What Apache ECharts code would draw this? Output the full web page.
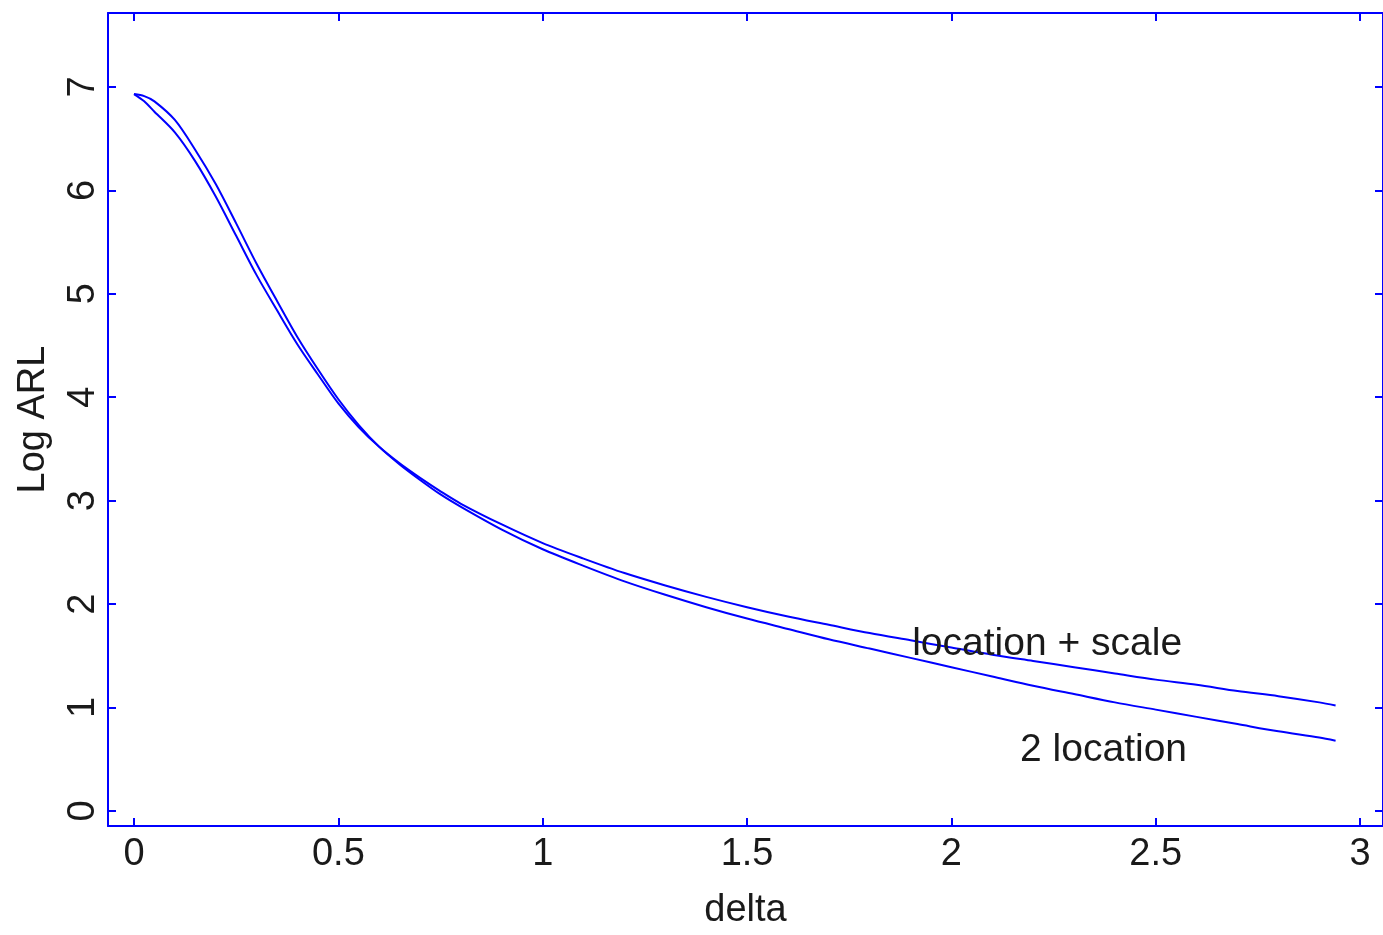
<!DOCTYPE html>
<html>
<head>
<meta charset="utf-8">
<script src="https://cdn.jsdelivr.net/npm/echarts@6/dist/echarts.min.js"></script>
<style>
html,body{margin:0;padding:0;background:#fff;}
#chart{width:1383px;height:935px;}
</style>
</head>
<body>
<div id="chart"></div>
<script>
// ---- data ----
const deltaTwoLoc = [0, 0.025, 0.05, 0.1, 0.15, 0.2, 0.25, 0.3, 0.35, 0.4, 0.45, 0.5, 0.55, 0.6, 0.65, 0.7, 0.75, 0.8, 0.9, 1.0, 1.1, 1.2, 1.3, 1.4, 1.5, 1.6, 1.7, 1.8, 1.9, 2.0, 2.1, 2.2, 2.3, 2.4, 2.5, 2.6, 2.7, 2.8, 2.9, 2.94];
const arlTwoLoc   = [6.93, 6.91, 6.86, 6.68, 6.39, 6.06, 5.68, 5.29, 4.93, 4.58, 4.27, 3.98, 3.73, 3.52, 3.35, 3.20, 3.06, 2.94, 2.72, 2.53, 2.37, 2.22, 2.09, 1.97, 1.86, 1.76, 1.66, 1.57, 1.48, 1.39, 1.30, 1.21, 1.13, 1.05, 0.98, 0.91, 0.84, 0.77, 0.71, 0.68];
const deltaLocScale = [0, 0.025, 0.05, 0.1, 0.15, 0.2, 0.25, 0.3, 0.35, 0.4, 0.45, 0.5, 0.55, 0.6, 0.65, 0.7, 0.75, 0.8, 0.9, 1.0, 1.1, 1.2, 1.3, 1.4, 1.5, 1.6, 1.7, 1.8, 1.9, 2.0, 2.1, 2.2, 2.3, 2.4, 2.5, 2.6, 2.7, 2.8, 2.9, 2.94];
const arlLocScale   = [6.93, 6.86, 6.76, 6.56, 6.28, 5.94, 5.56, 5.18, 4.84, 4.51, 4.22, 3.94, 3.71, 3.52, 3.36, 3.22, 3.09, 2.97, 2.77, 2.59, 2.44, 2.30, 2.18, 2.07, 1.97, 1.88, 1.80, 1.72, 1.65, 1.58, 1.51, 1.45, 1.39, 1.33, 1.27, 1.22, 1.16, 1.11, 1.05, 1.02];
const xTicks = [0, 0.5, 1, 1.5, 2, 2.5, 3];
const yTicks = [0, 1, 2, 3, 4, 5, 6, 7];
const annotations = [
  {text: 'location + scale', x: 1.904, y: 1.50},
  {text: '2 location', x: 2.168, y: 0.48}
];
const xName = 'delta';
const yName = 'Log ARL';

// ---- chart ----
const blue = '#0000ff';
const textColor = '#1a1a1a';
const font = 'Liberation Sans, Arial, sans-serif';
const fs = 38;
const xMin = -0.0636, xMax = 3.056, yMin = -0.145, yMax = 7.714;

const chart = echarts.init(document.getElementById('chart'), null, {renderer: 'canvas'});

function xAxisDef(pos, showLabel) {
  return {
    type: 'value', position: pos, min: xMin, max: xMax,
    name: showLabel ? xName : '', nameLocation: 'middle', nameGap: 66,
    nameTextStyle: {color: textColor, fontSize: fs, fontFamily: font},
    axisLine: {show: true, onZero: false, lineStyle: {color: blue, width: 2}},
    axisTick: {show: true, inside: true, length: 8, customValues: xTicks, lineStyle: {color: blue, width: 2}},
    axisLabel: {show: showLabel, customValues: xTicks, margin: 10, color: textColor, fontSize: fs, fontFamily: font,
      formatter: v => String(v)},
    splitLine: {show: false}
  };
}
function yAxisDef(pos, showLabel) {
  return {
    type: 'value', position: pos, min: yMin, max: yMax,
    name: showLabel ? yName : '', nameLocation: 'middle', nameGap: 55, nameRotate: 90,
    nameTextStyle: {color: textColor, fontSize: fs, fontFamily: font},
    axisLine: {show: true, onZero: false, lineStyle: {color: blue, width: 2}},
    axisTick: {show: true, inside: true, length: 8, customValues: yTicks, lineStyle: {color: blue, width: 2}},
    axisLabel: {show: showLabel, customValues: yTicks, rotate: 90, margin: 5, color: textColor, fontSize: fs, fontFamily: font,
      formatter: v => String(v)},
    splitLine: {show: false}
  };
}

const option = {
  animation: false,
  backgroundColor: '#fff',
  grid: {left: 108, top: 13, right: -1, bottom: 107, containLabel: false},
  xAxis: [xAxisDef('bottom', true), xAxisDef('top', false)],
  yAxis: [yAxisDef('left', true), yAxisDef('right', false)],
  series: [
    {name: '2 location', type: 'line', showSymbol: false, smooth: 0.3,
     data: deltaTwoLoc.map((d, i) => [d, arlTwoLoc[i]]),
     lineStyle: {color: blue, width: 2}},
    {name: 'location + scale', type: 'line', showSymbol: false, smooth: 0.3,
     data: deltaLocScale.map((d, i) => [d, arlLocScale[i]]),
     lineStyle: {color: blue, width: 2}}
  ]
};
chart.setOption(option);

const graphics = annotations.map(a => {
  const p = chart.convertToPixel({xAxisIndex: 0, yAxisIndex: 0}, [a.x, a.y]);
  return {
    type: 'text', x: p[0], y: p[1] + 8, z: 10,
    style: {text: a.text, fill: textColor, fontSize: 39, fontFamily: font, align: 'left', verticalAlign: 'bottom'}
  };
});
chart.setOption({graphic: graphics});
</script>
</body>
</html>
